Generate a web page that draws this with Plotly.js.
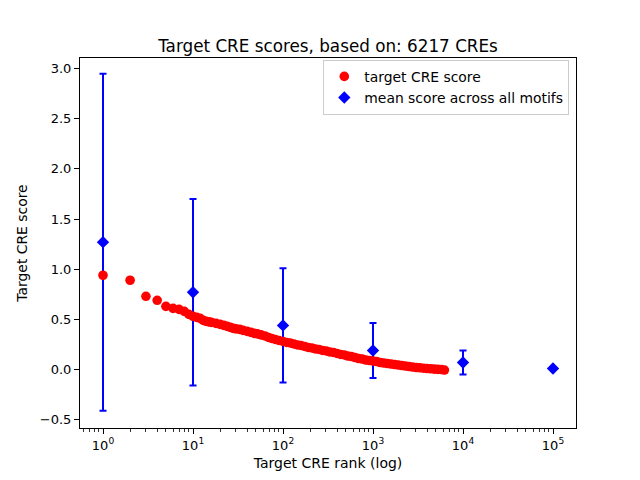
<!DOCTYPE html>
<html>
<head>
<meta charset="utf-8">
<script src="https://cdn.plot.ly/plotly-3.0.1.min.js"></script>
<style>html,body{margin:0;padding:0;background:#fff;}#chart{width:640px;height:480px;}</style>
</head>
<body>
<div id="chart"></div>
<script>
// Red series: target CRE score by rank
const creRank = [1,2,3,4,5,6,7,8,9,10,11,12,13,14,15,16,18,20,22,24,26,28,30,33,36,40,44,48,52,57,63,69,75,82,90,100,110,120,132,145,158,174,190,209,229,251,275,302,331,363,398,437,479,525,575,631,692,759,832,912,1000,1096,1202,1318,1445,1585,1738,1905,2089,2291,2512,2754,3020,3311,3631,3981,4365,4786,5248,5754,6217];
const creScore = [0.94,0.89,0.73,0.69,0.63,0.61,0.60,0.58,0.55,0.53,0.52,0.51,0.49,0.48,0.475,0.47,0.46,0.45,0.44,0.43,0.42,0.41,0.405,0.40,0.39,0.38,0.37,0.36,0.355,0.345,0.335,0.32,0.31,0.30,0.29,0.28,0.27,0.265,0.255,0.245,0.24,0.23,0.22,0.215,0.205,0.20,0.19,0.185,0.175,0.17,0.16,0.15,0.145,0.135,0.13,0.12,0.11,0.105,0.095,0.09,0.085,0.08,0.07,0.065,0.06,0.055,0.05,0.045,0.04,0.035,0.03,0.025,0.02,0.017,0.013,0.01,0.007,0.004,0.002,0.0,-0.005];

// Blue series: mean score across all motifs with error
const motifRank = [1,10,100,1000,10000,100000];
const motifMean = [1.27,0.77,0.44,0.19,0.07,0.01];
const motifErr = [1.68,0.93,0.57,0.275,0.12,0.0];

const xTickVals = [1,10,100,1000,10000,100000];
const xTickText = ['10<sup>0</sup>','10<sup>1</sup>','10<sup>2</sup>','10<sup>3</sup>','10<sup>4</sup>','10<sup>5</sup>'];
const yTickVals = [-0.5,0.0,0.5,1.0,1.5,2.0,2.5,3.0];

const minorVals = [];
for (let d = -1; d <= 5; d++) {
  for (let m = 2; m <= 9; m++) minorVals.push(m * Math.pow(10, d));
}

const font = 'DejaVu Sans, sans-serif';

const traces = [
  {
    x: motifRank, y: motifMean, type: 'scatter', mode: 'markers',
    name: 'mean score across all motifs', legendrank: 2,
    marker: {color: 'blue', symbol: 'diamond', size: 9.5},
    error_y: {type: 'data', array: motifErr, visible: true, color: 'blue', thickness: 2, width: 3.5}
  },
  {
    x: creRank, y: creScore, type: 'scatter', mode: 'markers',
    name: 'target CRE score', legendrank: 1,
    marker: {color: 'red', size: 9.6}
  }
];

const layout = {
  width: 640, height: 480,
  margin: {l: 80, r: 64, t: 58, b: 52, pad: 0},
  paper_bgcolor: '#fff', plot_bgcolor: '#fff',
  font: {family: font, size: 13, color: '#000'},
  title: {text: 'Target CRE scores, based on: 6217 CREs', font: {family: font, size: 16.8, color: '#000'},
          x: 0.5, xref: 'paper', xanchor: 'center', y: 1, yref: 'paper', yanchor: 'bottom', pad: {b: 6}},
  showlegend: true,
  legend: {x: 0.9865, y: 0.995, xanchor: 'right', yanchor: 'top', bgcolor: 'rgba(255,255,255,0.8)',
           bordercolor: '#cccccc', borderwidth: 1, font: {family: font, size: 13.9, color: '#000'},
           itemwidth: 30, tracegroupgap: 0},
  xaxis: {
    type: 'log', range: [-0.2556, 5.2556],
    tickmode: 'array', tickvals: xTickVals, ticktext: xTickText,
    ticks: 'outside', ticklen: 5, tickwidth: 1, tickcolor: '#000',
    showline: true, linecolor: '#000', linewidth: 1, mirror: true,
    showgrid: false, zeroline: false,
    tickfont: {family: font, size: 13, color: '#000'},
    minor: {tickmode: 'array', tickvals: minorVals, ticks: 'outside', ticklen: 2.5, tickwidth: 0.8, tickcolor: '#000', showgrid: false},
    title: {text: 'Target CRE rank (log)', font: {family: font, size: 14, color: '#000'}, standoff: 6}
  },
  yaxis: {
    range: [-0.583, 3.106],
    tickmode: 'array', tickvals: yTickVals, tickformat: '.1f',
    ticks: 'outside', ticklen: 5, tickwidth: 1, tickcolor: '#000',
    showline: true, linecolor: '#000', linewidth: 1, mirror: true,
    showgrid: false, zeroline: false,
    tickfont: {family: font, size: 13, color: '#000'},
    title: {text: 'Target CRE score', font: {family: font, size: 13.9, color: '#000'}, standoff: 8}
  }
};

Plotly.newPlot('chart', traces, layout, {staticPlot: true, displayModeBar: false});
</script>
</body>
</html>
